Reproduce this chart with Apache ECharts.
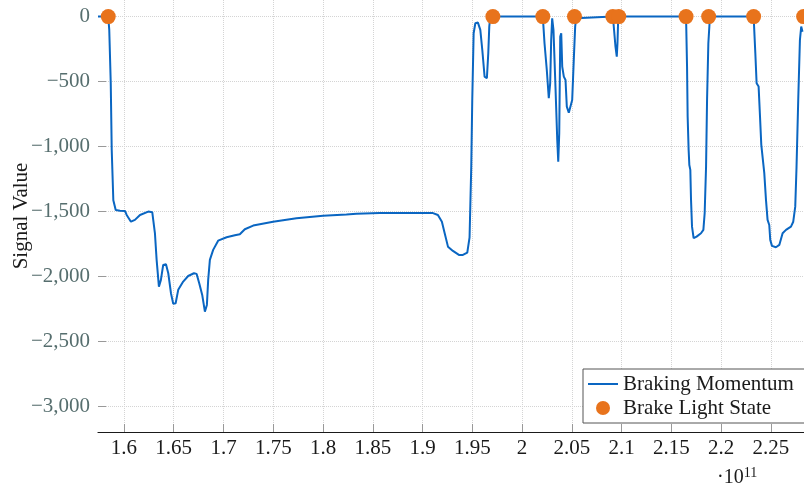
<!DOCTYPE html>
<html>
<head>
<meta charset="utf-8">
<script src="https://cdn.jsdelivr.net/npm/echarts@6/dist/echarts.min.js"></script>
<style>
html,body{margin:0;padding:0;background:#fff;}
#c{width:804px;height:491px;}
</style>
</head>
<body>
<div id="c"></div>
<script>
// x values in units of 1e11
const momentumX = [1.5739,1.5842,1.5852,1.5867,1.5877,1.5893,1.5917,1.5960,1.6010,1.6027,1.6070,1.6110,1.6161,1.6244,1.6284,1.6311,1.6328,1.6351,1.6371,1.6394,1.6422,1.6445,1.6472,1.6495,1.6519,1.6545,1.6595,1.6645,1.6703,1.6730,1.6756,1.6786,1.6813,1.6833,1.6846,1.6863,1.6896,1.6946,1.7031,1.7114,1.7164,1.7214,1.7298,1.7498,1.7733,1.8000,1.8235,1.8335,1.8569,1.8837,1.9098,1.9154,1.9194,1.9222,1.9255,1.9305,1.9365,1.9405,1.9449,1.9472,1.9489,1.9499,1.9513,1.9530,1.9556,1.9580,1.9600,1.9623,1.9646,1.9660,1.9670,1.9680,1.9706,2.0208,2.0225,2.0248,2.0268,2.0282,2.0292,2.0302,2.0315,2.0335,2.0353,2.0363,2.0373,2.0383,2.0393,2.0403,2.0419,2.0436,2.0449,2.0469,2.0489,2.0503,2.0519,2.0533,2.0543,2.0556,2.0911,2.0918,2.0938,2.0951,2.0958,2.0965,2.0971,2.1647,2.1657,2.1663,2.1673,2.1680,2.1690,2.1697,2.1707,2.1723,2.1753,2.1797,2.1821,2.1834,2.1848,2.1858,2.1871,2.1884,2.1891,2.2326,2.2343,2.2356,2.2376,2.2390,2.2403,2.2420,2.2433,2.2450,2.2466,2.2483,2.2493,2.2510,2.2550,2.2584,2.2617,2.2651,2.2701,2.2724,2.2744,2.2757,2.2774,2.2791,2.2804,2.2817];
const momentumY = [0,0,-100,-510,-1030,-1414,-1490,-1495,-1497,-1528,-1580,-1566,-1528,-1502,-1507,-1669,-1874,-2080,-2028,-1913,-1908,-1977,-2131,-2213,-2208,-2105,-2041,-1998,-1977,-1982,-2054,-2144,-2273,-2221,-2028,-1874,-1797,-1726,-1700,-1684,-1676,-1638,-1610,-1580,-1553,-1535,-1525,-1518,-1512,-1512,-1512,-1528,-1580,-1669,-1772,-1805,-1836,-1836,-1818,-1700,-1156,-642,-128,-51,-46,-102,-257,-462,-475,-282,-77,0,0,0,-205,-411,-629,-513,-180,-13,-102,-539,-950,-1117,-899,-154,-128,-385,-462,-488,-693,-740,-732,-642,-334,-77,-13,0,0,-51,-231,-308,-205,-25,0,0,-385,-770,-1027,-1143,-1181,-1412,-1618,-1707,-1695,-1669,-1643,-1515,-1156,-642,-205,-39,0,0,-282,-513,-539,-770,-988,-1001,-1206,-1412,-1566,-1605,-1720,-1766,-1777,-1759,-1669,-1643,-1618,-1580,-1464,-1156,-642,-180,-77,-116];
const lightX = [1.5842,1.9706,2.0208,2.0526,2.0911,2.0971,2.1647,2.1874,2.2326,2.2828];
const lightY = [0,0,0,0,0,0,0,0,0,0];
const xTicks = [1.6,1.65,1.7,1.75,1.8,1.85,1.9,1.95,2,2.05,2.1,2.15,2.2,2.25];
const yTicks = [-3000,-2500,-2000,-1500,-1000,-500,0];
const xMin = 1.5739, xMax = 2.2832, yMin = -3200, yMax = 128;

const FONT = 'Liberation Serif';
const chart = echarts.init(document.getElementById('c'));
function fmtY(v){
  if (v === 0) return '0';
  const s = Math.abs(v).toLocaleString('en-US');
  return (v < 0 ? '\u2212' : '') + s;
}
function fmtX(v){ return String(parseFloat(Number(v).toFixed(3))); }

chart.setOption({
  animation: false,
  backgroundColor: '#fff',
  grid: { left: 98, right: 0, top: 0, bottom: 59, containLabel: false, outerBoundsMode: 'none' },
  xAxis: {
    type: 'value', min: xMin, max: xMax,
    axisLine: { show: true, onZero: false, lineStyle: { color: '#1a1a1a', width: 1.2 } },
    axisTick: { show: true, inside: true, length: 8, customValues: xTicks, lineStyle: { color: '#999' } },
    axisLabel: { customValues: xTicks, formatter: fmtX, color: '#1a1a1a', fontFamily: FONT, fontSize: 21, margin: 6 },
    splitLine: { show: true, lineStyle: { color: '#d4d4d4', type: 'dotted', width: 1 } }
  },
  yAxis: {
    type: 'value', min: yMin, max: yMax,
    name: 'Signal Value', nameLocation: 'middle', nameGap: 77, nameRotate: 90, nameMoveOverlap: false,
    nameTextStyle: { fontFamily: FONT, fontSize: 21, color: '#1a1a1a', verticalAlign: 'middle' },
    axisLine: { show: false },
    axisTick: { show: true, inside: true, length: 8, customValues: yTicks, lineStyle: { color: '#999' } },
    axisLabel: { customValues: yTicks, formatter: fmtY, color: '#566e6e', fontFamily: FONT, fontSize: 21, margin: 8 },
    splitLine: { show: true, lineStyle: { color: '#d4d4d4', type: 'dotted', width: 1 } }
  },
  legend: {
    orient: 'vertical', left: 583, top: 369,
    padding: [3, 40, 3, 5], itemGap: 0, itemWidth: 30, itemHeight: 14,
    backgroundColor: '#fff', borderColor: '#555', borderWidth: 1, borderRadius: 0,
    textStyle: { fontFamily: FONT, fontSize: 21, color: '#1a1a1a', lineHeight: 24 },
    data: [
      { name: 'Braking Momentum', icon: 'path://M0,6L30,6L30,8L0,8Z' },
      { name: 'Brake Light State', icon: 'circle' }
    ]
  },
  graphic: [{
    type: 'text', left: 717, top: 466,
    style: {
      text: '{a|\u00b710}{b|11}',
      rich: {
        a: { fontFamily: FONT, fontSize: 20, fill: '#1a1a1a', verticalAlign: 'bottom', lineHeight: 22 },
        b: { fontFamily: FONT, fontSize: 14, fill: '#1a1a1a', verticalAlign: 'top', padding: [0,0,8,0] }
      }
    }
  }],
  series: [
    {
      name: 'Braking Momentum', type: 'line',
      data: momentumX.map((x, i) => [x, momentumY[i]]),
      showSymbol: false, symbol: 'none',
      lineStyle: { color: '#0a66c2', width: 2 },
      itemStyle: { color: '#0a66c2' },
      z: 2
    },
    {
      name: 'Brake Light State', type: 'scatter',
      data: lightX.map((x, i) => [x, lightY[i]]),
      symbol: 'circle', symbolSize: 15,
      itemStyle: { color: '#e8731c', opacity: 1 },
      z: 3
    }
  ]
});
</script>
</body>
</html>
